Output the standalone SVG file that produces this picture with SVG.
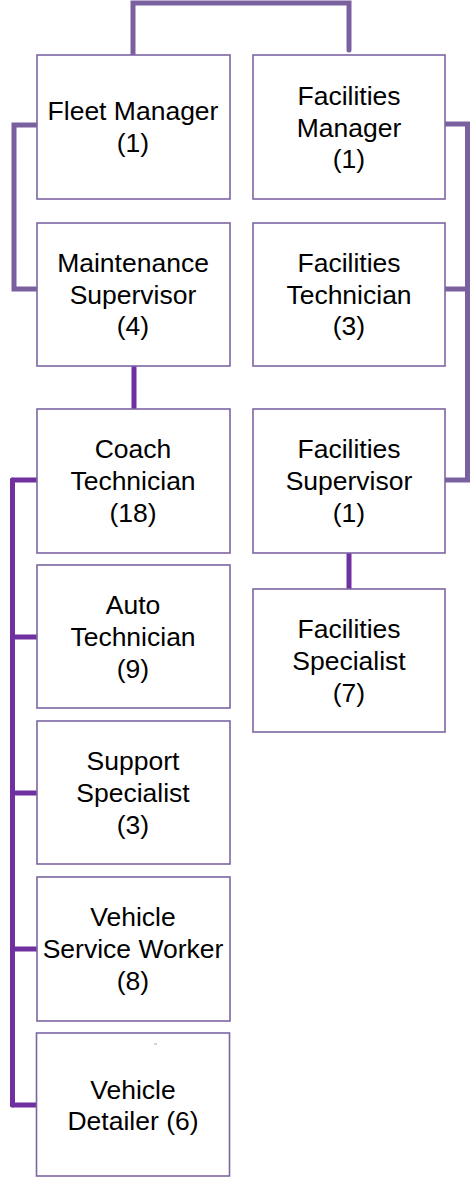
<svg xmlns="http://www.w3.org/2000/svg" width="475" height="1184" viewBox="0 0 475 1184">
<style>
.box{fill:#fff;stroke:#7D65A3;stroke-width:1.6}
.t{font-family:"Liberation Sans",Arial,sans-serif;font-size:26.5px;fill:#000;text-anchor:middle}
.c1{fill:none;stroke:#7B60A0;stroke-width:5;stroke-linecap:round;stroke-linejoin:miter}
.c2{fill:none;stroke:#7030A0;stroke-width:5;stroke-linecap:round;stroke-linejoin:miter}
</style>
<rect width="475" height="1184" fill="#fff"/>
<g id="connectors">
<path class="c1" d="M133,55 V3 H349 V50"/>
<path class="c1" d="M37,125 H14 V289 H37"/>
<path class="c1" d="M445,124 H467.5 V480 H445"/>
<path class="c1" d="M445,289 H467.5"/>
<path class="c2" d="M134,366 V409"/>
<path class="c2" d="M349,553 V589"/>
<path class="c2" d="M12.5,480 V1105"/>
<path class="c2" d="M12.5,480 H37"/>
<path class="c2" d="M12.5,637 H37"/>
<path class="c2" d="M12.5,793 H37"/>
<path class="c2" d="M12.5,949 H37"/>
<path class="c2" d="M12.5,1105 H37"/>
</g>
<g id="fleet-manager"><rect class="box" x="37" y="55" width="193" height="144"/>
<text class="t" x="133" y="120">Fleet Manager</text><text class="t" x="133" y="152">(1)</text></g>
<g id="facilities-manager"><rect class="box" x="253" y="55" width="192" height="144"/>
<text class="t" x="349" y="105">Facilities</text><text class="t" x="349" y="137">Manager</text><text class="t" x="349" y="168">(1)</text></g>
<g id="maintenance-supervisor"><rect class="box" x="37" y="223" width="193" height="143"/>
<text class="t" x="133" y="272">Maintenance</text><text class="t" x="133" y="304">Supervisor</text><text class="t" x="133" y="335">(4)</text></g>
<g id="facilities-technician"><rect class="box" x="253" y="223" width="192" height="143"/>
<text class="t" x="349" y="272">Facilities</text><text class="t" x="349" y="304">Technician</text><text class="t" x="349" y="335">(3)</text></g>
<g id="coach-technician"><rect class="box" x="37" y="409" width="193" height="144"/>
<text class="t" x="133" y="458">Coach</text><text class="t" x="133" y="490">Technician</text><text class="t" x="133" y="522">(18)</text></g>
<g id="facilities-supervisor"><rect class="box" x="253" y="409" width="192" height="144"/>
<text class="t" x="349" y="458">Facilities</text><text class="t" x="349" y="490">Supervisor</text><text class="t" x="349" y="522">(1)</text></g>
<g id="auto-technician"><rect class="box" x="37" y="565" width="193" height="143"/>
<text class="t" x="133" y="614">Auto</text><text class="t" x="133" y="646">Technician</text><text class="t" x="133" y="678">(9)</text></g>
<g id="facilities-specialist"><rect class="box" x="253" y="589" width="192" height="143"/>
<text class="t" x="349" y="638">Facilities</text><text class="t" x="349" y="670">Specialist</text><text class="t" x="349" y="702">(7)</text></g>
<g id="support-specialist"><rect class="box" x="37" y="721" width="193" height="143"/>
<text class="t" x="133" y="770">Support</text><text class="t" x="133" y="802">Specialist</text><text class="t" x="133" y="834">(3)</text></g>
<g id="vehicle-service-worker"><rect class="box" x="37" y="877" width="193" height="144"/>
<text class="t" x="133" y="926">Vehicle</text><text class="t" x="133" y="958">Service Worker</text><text class="t" x="133" y="990">(8)</text></g>
<g id="vehicle-detailer"><rect class="box" x="36.5" y="1033" width="193" height="143"/>
<line x1="154" y1="1044" x2="157" y2="1044" stroke="#B0A0D0" stroke-width="1"/>
<text class="t" x="133" y="1099">Vehicle</text><text class="t" x="133" y="1130">Detailer (6)</text></g>
</svg>
